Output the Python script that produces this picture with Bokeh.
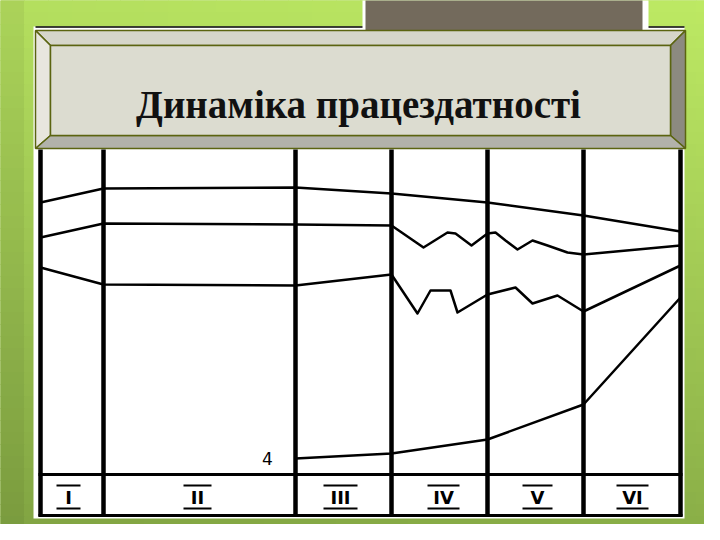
import numpy as np
from bokeh.plotting import figure
from bokeh.models import Range1d
from bokeh.core.properties import value
from bokeh.embed import file_html
from bokeh.resources import INLINE

# ---------------- data (page pixel coordinates) ----------------
title_text = "Динаміка працездатності"

phase_bounds = [40, 103, 295, 391, 487, 583, 680]
phase_labels = ["I", "II", "III", "IV", "V", "VI"]
label_x = [68, 197, 340, 443, 537, 632]
label_half = [12, 14, 17, 16, 15, 16]

curve1_x = [40, 103, 295, 391, 487, 583, 680]
curve1_y = [202, 188, 187, 193, 202, 215, 231]

curve2_x = [40, 103, 295, 391, 423, 447, 455, 471, 487, 495, 505, 517, 532, 547, 567, 583, 680]
curve2_y = [237, 223, 224, 225, 247, 232, 233, 245, 233, 232, 240, 249, 240, 245, 252, 254, 245]

curve3_x = [40, 103, 295, 391, 417, 430, 450, 457, 487, 515, 532, 557, 583, 680]
curve3_y = [267, 284, 285, 274, 313, 290, 290, 312, 294, 287, 303, 295, 311, 265]

curve4_x = [295, 391, 487, 583, 680]
curve4_y = [458, 453, 439, 404, 297]
curve4_label = "4"

# ---------------- figure ----------------
W, H = 704, 524
p = figure(width=W, height=H, x_range=Range1d(0, W), y_range=Range1d(H, 0),
           output_backend="svg", toolbar_location=None, min_border=0)
p.axis.visible = False
p.grid.visible = False
p.outline_line_color = None
p.background_fill_color = "#a6d452"
p.border_fill_color = "#a6d452"

# green slide background (gradient tiles)
top = np.array([190, 234, 100])
bot = np.array([128, 163, 66])
xs0, ys0, cols = [], [], []
for yy in range(0, 540, 12):
    for xx in range(0, 720, 24):
        t = min(1.0, max(0.0, 0.85 * (yy + 6) / 540 + 0.15 * (1 - (xx + 12) / 720)))
        c = (top * (1 - t) + bot * t).astype(int)
        if xx < 24:
            c = (c * 0.95).astype(int)
        xs0.append(xx); ys0.append(yy)
        cols.append("#%02x%02x%02x" % tuple(c))
p.quad(left=xs0, right=[x + 24 for x in xs0], top=ys0, bottom=[y + 12 for y in ys0],
       fill_color=cols, line_color=cols, line_width=1)

# white content area
p.quad(left=[33], right=[684], top=[26], bottom=[518], fill_color="white", line_color=None)
p.segment(x0=[35], y0=[26.5], x1=[684], y1=[26.5], line_color="black", line_width=1.5)

# brown tab above title
p.quad(left=[362], right=[648], top=[-2], bottom=[31], fill_color="white", line_color=None)
p.quad(left=[365], right=[642], top=[-2], bottom=[31], fill_color="#736a5c", line_color=None)

# title box with bevel
olive = "#5b6410"
p.patch([35, 685, 685, 35], [30, 30, 148, 148], fill_color="#dcdcd0", line_color=None)
p.patch([35, 685, 670, 50], [30, 30, 45, 45], fill_color="#d6d6ca", line_color=olive, line_width=1.5)
p.patch([35, 50, 50, 35], [30, 45, 135, 148], fill_color="#e8e6de", line_color=olive, line_width=1.5)
p.patch([685, 685, 670, 670], [30, 148, 135, 45], fill_color="#8c8a80", line_color=olive, line_width=1.5)
p.patch([35, 50, 670, 685], [148, 135, 135, 148], fill_color="#b2b2aa", line_color=olive, line_width=1.5)
p.patch([50, 670, 670, 50], [45, 45, 135, 135], fill_color="#dcdcd0", line_color=olive, line_width=1.5)
p.text(x=[358], y=[104], text=[title_text], text_font=value("Liberation Serif"),
       text_font_style="bold", text_font_size="39px", text_align="center",
       text_baseline="alphabetic", text_color="#111111")

# chart frame
p.segment(x0=phase_bounds, y0=[149] * len(phase_bounds), x1=phase_bounds,
          y1=[516] * len(phase_bounds), line_color="black", line_width=4.5)
p.segment(x0=[38, 38], y0=[474, 515], x1=[682, 682], y1=[474, 515],
          line_color="black", line_width=3)

# curves
for cx, cy in [(curve1_x, curve1_y), (curve2_x, curve2_y), (curve3_x, curve3_y), (curve4_x, curve4_y)]:
    p.line(cx, cy, line_color="black", line_width=2.5, line_join="round")
p.text(x=[267], y=[458], text=[curve4_label], text_font=value("DejaVu Sans"),
       text_font_size="17px", text_align="center", text_baseline="middle", text_color="black")

# phase labels with over/under bars
p.text(x=label_x, y=[497] * 6, text=phase_labels, text_font=value("DejaVu Sans"),
       text_font_style="bold", text_font_size="18px", text_align="center",
       text_baseline="middle", text_color="black")
p.segment(x0=[x - h for x, h in zip(label_x, label_half)], y0=[485] * 6,
          x1=[x + h for x, h in zip(label_x, label_half)], y1=[485] * 6, line_color="black", line_width=2)
p.segment(x0=[x - h for x, h in zip(label_x, label_half)], y0=[508] * 6,
          x1=[x + h for x, h in zip(label_x, label_half)], y1=[508] * 6, line_color="black", line_width=2)

open("out.html", "w").write(file_html(p, INLINE))
